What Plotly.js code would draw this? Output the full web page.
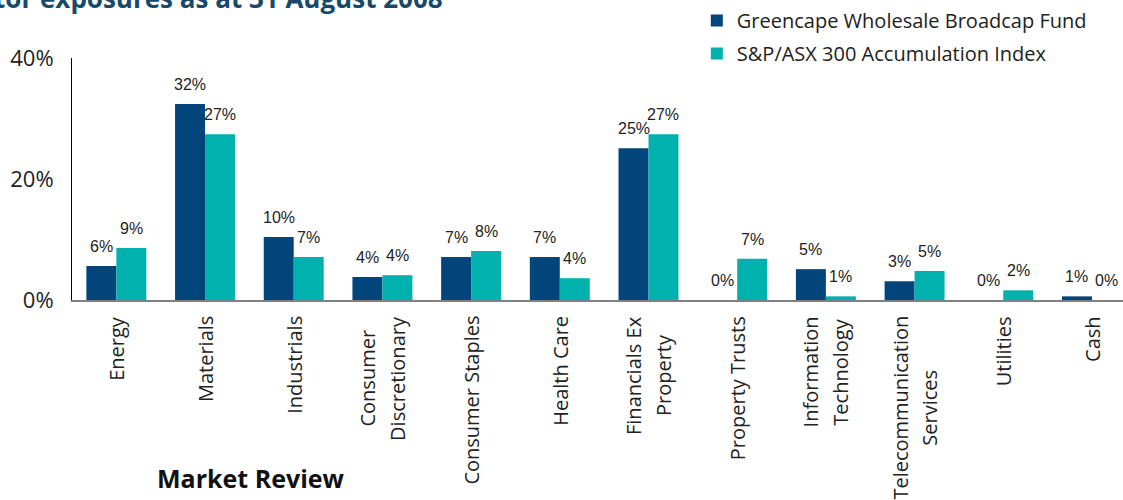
<!DOCTYPE html>
<html>
<head>
<meta charset="utf-8">
<script src="https://cdn.plot.ly/plotly-3.0.1.min.js"></script>
<style>html,body{margin:0;padding:0;background:#fff;}#chart{width:1123px;height:500px;}</style>
</head>
<body>
<div id="chart"></div>
<script>
const categories = ["Energy", "Materials", "Industrials", "Consumer<br>Discretionary", "Consumer Staples", "Health Care", "Financials Ex<br>Property", "Property Trusts", "Information<br>Technology", "Telecommunication<br>Services", "Utilities", "Cash"];
const fundName = "Greencape Wholesale Broadcap Fund";
const indexName = "S&P/ASX 300 Accumulation Index";
const fundValues = [5.6, 32.4, 10.4, 3.8, 7.1, 7.1, 25.1, 0, 5.1, 3.1, 0, 0.6];
const indexValues = [8.6, 27.4, 7.1, 4.1, 8.1, 3.6, 27.4, 6.8, 0.6, 4.8, 1.6, 0];
const yTickVals = [0, 20, 40];
const yTickText = ["0%", "20%", "40%"];

const darkColor = "#02457a";
const tealColor = "#00b1ad";
const bargap = 0.324;
const catFontSize = 20;
const catLineGap = 30;
const idx = categories.map((_, i) => i);

const traces = [
  {type: "bar", name: fundName, x: idx, y: fundValues, marker: {color: darkColor}, legendgroup: "a", hoverinfo: "y"},
  {type: "bar", name: indexName, x: idx, y: indexValues, marker: {color: tealColor}, legendgroup: "b", hoverinfo: "y"}
];

const half = (1 - bargap) / 4;
const annotations = [];
[fundValues, indexValues].forEach((vals, s) => {
  vals.forEach((v, i) => {
    annotations.push({
      x: i + (s === 0 ? -half : half), y: v, xref: "x", yref: "y",
      text: Math.round(v) + "%", showarrow: false,
      xanchor: "center", yanchor: "bottom", yshift: 9,
      font: {family: "Liberation Sans, Arial, sans-serif", size: 16, color: "#222"}
    });
  });
});

// category labels: rotated, each line centred on the longest one
const ctx = document.createElement("canvas").getContext("2d");
ctx.font = catFontSize + "px 'Open Sans'";
categories.forEach((c, i) => {
  const lines = c.split("<br>");
  const lens = lines.map(l => ctx.measureText(l).width);
  const maxLen = Math.max(...lens);
  lines.forEach((line, j) => {
    annotations.push({
      x: i, y: 0, xref: "x", yref: "y", text: line, showarrow: false,
      textangle: -90, xanchor: "center", yanchor: "top",
      yshift: -14 - (maxLen - lens[j]) / 2,
      xshift: (j - (lines.length - 1) / 2) * catLineGap,
      font: {family: "Open Sans, sans-serif", size: catFontSize, color: "#222"}
    });
  });
});

annotations.push({
  xref: "paper", yref: "paper", x: (445 - 72) / 1051, y: 1.167, xanchor: "right", yanchor: "bottom",
  text: "<b>Sector exposures as at 31 August 2008</b>", showarrow: false,
  font: {family: "Open Sans, sans-serif", size: 26, color: "#18496a"}
});
annotations.push({
  xref: "paper", yref: "paper", x: (251 - 72) / 1051, y: -0.7355, xanchor: "center", yanchor: "middle",
  text: "<b>Market Review</b>", showarrow: false,
  font: {family: "Open Sans, sans-serif", size: 25, color: "#111"}
});

const layout = {
  width: 1123, height: 500,
  margin: {l: 72, r: 0, t: 58, b: 200},
  paper_bgcolor: "#fff", plot_bgcolor: "#fff",
  barmode: "group", bargap: bargap, bargroupgap: 0,
  showlegend: true,
  legend: {x: 0.5945, xanchor: "left", y: 1.236, yanchor: "top", traceorder: "grouped", tracegroupgap: 4,
    font: {family: "Open Sans, sans-serif", size: 20, color: "#222"}, bgcolor: "rgba(0,0,0,0)"},
  xaxis: {
    range: [-0.5, 11.35], tickmode: "array", tickvals: idx, ticktext: categories.map(() => ""),
    showgrid: false, zeroline: false, showline: true, linecolor: "#808080", linewidth: 2,
    ticks: ""
  },
  yaxis: {
    range: [0, 40], tickmode: "array", tickvals: yTickVals, ticktext: yTickText,
    showgrid: false, zeroline: false, showline: true, linecolor: "#000", linewidth: 1,
    ticks: "", ticklabelstandoff: 13,
    tickfont: {family: "Open Sans, sans-serif", size: 22, color: "#222"}
  },
  annotations: annotations
};

Plotly.newPlot("chart", traces, layout, {displayModeBar: false, staticPlot: true});
</script>
</body>
</html>
